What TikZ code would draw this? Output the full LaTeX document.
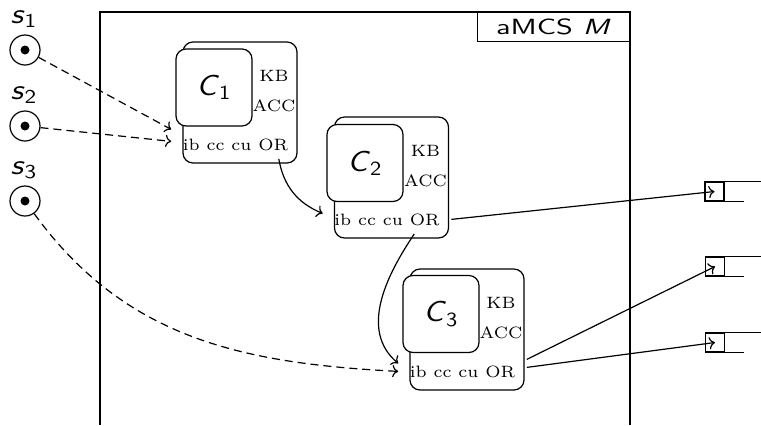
\documentclass[tikz,border=0pt]{standalone}
\usepackage{graphicx}
\usetikzlibrary{arrows.meta}
\newcommand\hstr[2]{\scalebox{#1}[1]{#2}}
\newcommand\tinyup[1]{\scalebox{1.37}{\fontsize{6}{7}\selectfont #1}}
\tikzset{
  every picture/.style={line width=0.6pt},
  ctxouter/.style={draw, rounded corners=5pt, minimum width=57pt, minimum height=60.5pt, inner sep=0pt},
  ctxinner/.style={draw, fill=white, rounded corners=5pt, minimum width=38pt, minimum height=38.5pt, inner sep=0pt, font=\sffamily\fontsize{14.4}{17}\selectfont},
  ctxlab/.style={inner ysep=0pt, inner xsep=0pt, anchor=base},
  ctxbot/.style={inner ysep=0pt, inner xsep=5.5pt, anchor=base},
  stream/.style={draw, circle, minimum size=15pt, inner sep=0pt},
  dotnode/.style={fill, circle, minimum size=4.5pt, inner sep=0pt},
  slabel/.style={font=\sffamily\fontsize{14}{16}\selectfont, inner sep=0pt},
  outbox/.style={draw, minimum size=9.5pt, inner sep=0pt},
  conn/.style={->},
  dconn/.style={->, dash pattern=on 4pt off 2.5pt},
}
\begin{document}
\begin{tikzpicture}[x=0.5pt, y=-0.5pt]
\useasboundingbox (0,0) rectangle (761,425);
% frame
\draw (100,425) -- (100,12) -- (630,12) -- (630,425);
\node[draw, minimum width=76pt, minimum height=14.5pt, inner sep=0pt, anchor=north east, font=\sffamily\fontsize{11}{13}\selectfont] (title) at (630,12) {\hstr{1.4}{aMCS \textit{M}}};
% streams
\node[stream] (s1) at (25,50) {};  \node[dotnode] (d1) at (s1) {};
\node[stream] (s2) at (25,126) {}; \node[dotnode] (d2) at (s2) {};
\node[stream] (s3) at (25,201) {}; \node[dotnode] (d3) at (s3) {};
\node[slabel] (l1) at (24,19) {\hstr{1.18}{\textit{s}\textsubscript{1}}};
\node[slabel] (l2) at (24,95) {\hstr{1.18}{\textit{s}\textsubscript{2}}};
\node[slabel] (l3) at (24,170) {\hstr{1.18}{\textit{s}\textsubscript{3}}};
% context 1
\node[ctxouter] (c1) at (240,102.5) {};
\node[ctxinner] (c1i) at (214,87.5) {\hstr{1.12}{\textit{C}\textsubscript{1}}};
\node[ctxlab] (c1kb) at (274,81) {\tinyup{KB}};
\node[ctxlab] (c1acc) at (274,111) {\tinyup{ACC}};
\node[ctxbot] (c1b) at (235.5,150) {\tinyup{ib cc cu OR}};
% context 2
\node[ctxouter] (c2) at (391.5,177.5) {};
\node[ctxinner] (c2i) at (365,163) {\hstr{1.12}{\textit{C}\textsubscript{2}}};
\node[ctxlab] (c2kb) at (425.5,156) {\tinyup{KB}};
\node[ctxlab] (c2acc) at (425.5,186) {\tinyup{ACC}};
\node[ctxbot] (c2b) at (387,225) {\tinyup{ib cc cu OR}};
% context 3
\node[ctxouter] (c3) at (467,329.5) {};
\node[ctxinner] (c3i) at (441,314) {\hstr{1.12}{\textit{C}\textsubscript{3}}};
\node[ctxlab] (c3kb) at (501,308) {\tinyup{KB}};
\node[ctxlab] (c3acc) at (501,338) {\tinyup{ACC}};
\node[ctxbot] (c3b) at (462.5,377) {\tinyup{ib cc cu OR}};
% outputs
\node[outbox] (o1) at (714.5,191.5) {};
\node[outbox] (o2) at (715,266.5) {};
\node[outbox] (o3) at (715,342.5) {};
\foreach \o in {o1,o2,o3}{
  \draw (\o.north east) -- ++(37,0);
  \draw (\o.south east) -- ++(19,0);
}
% connectors
\draw[dconn] (s1) -- ([yshift=7.5pt]c1b.west);
\draw[dconn] (s2) -- ([yshift=1.5pt]c1b.west);
\draw[dconn] (s3) to[out=-54, in=177] (c3b.west);
\draw[conn] ([xshift=-10.5pt, yshift=-4pt]c1b.south east) to[out=-80, in=158] ([yshift=3pt]c2b.west);
\draw[conn] ([xshift=-18.5pt, yshift=-4pt]c2b.south east) to[out=-124, in=140] ([yshift=4pt]c3b.west);
\draw[conn] (c2b.east) -- (o1.center);
\draw[conn] ([yshift=6pt]c3b.east) -- (o2.center);
\draw[conn] ([yshift=2pt]c3b.east) -- (o3.center);
\end{tikzpicture}
\end{document}
